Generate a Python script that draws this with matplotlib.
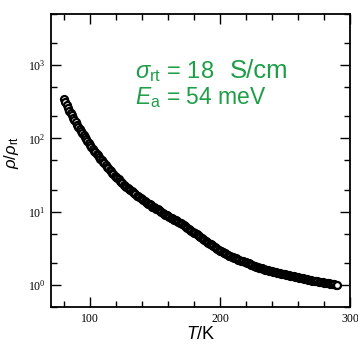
import numpy as np
import matplotlib
matplotlib.use('Agg')
import matplotlib.pyplot as plt
from matplotlib.ticker import LogLocator, FixedLocator, LogFormatterMathtext, NullFormatter

plt.rcParams['mathtext.fontset'] = 'custom'
plt.rcParams['mathtext.rm'] = 'Liberation Sans'
plt.rcParams['mathtext.it'] = 'Liberation Sans:italic'

# temperature (K) and log10 of rho/rho_rt (1 K steps)
temps = list(range(80, 291))
log_rho = [2.54, 2.50, 2.46, 2.42, 2.38, 2.35, 2.32, 2.285, 2.25, 2.22,
           2.19, 2.16, 2.13, 2.10, 2.07, 2.045, 2.02, 1.99, 1.96, 1.935,
           1.91, 1.885, 1.86, 1.835, 1.81, 1.79, 1.77, 1.745, 1.72, 1.70,
           1.68, 1.66, 1.64, 1.615, 1.59, 1.57, 1.55, 1.53, 1.51, 1.49,
           1.47, 1.455, 1.44, 1.425, 1.41, 1.39, 1.37, 1.355, 1.34, 1.325,
           1.31, 1.295, 1.28, 1.265, 1.25, 1.235, 1.22, 1.21, 1.20, 1.185,
           1.17, 1.16, 1.15, 1.135, 1.12, 1.11, 1.10, 1.085, 1.07, 1.06,
           1.05, 1.04, 1.03, 1.02, 1.01, 0.995, 0.98, 0.97, 0.96, 0.95,
           0.94, 0.93, 0.92, 0.91, 0.90, 0.89, 0.88, 0.87, 0.86, 0.85,
           0.84, 0.828, 0.815, 0.803, 0.79, 0.778, 0.765, 0.753, 0.74, 0.728,
           0.715, 0.703, 0.69, 0.678, 0.665, 0.653, 0.64, 0.628, 0.615, 0.603,
           0.59, 0.578, 0.565, 0.553, 0.54, 0.528, 0.515, 0.503, 0.49, 0.48,
           0.47, 0.46, 0.45, 0.44, 0.43, 0.42, 0.41, 0.401, 0.393, 0.385,
           0.377, 0.37, 0.362, 0.355, 0.347, 0.34, 0.333, 0.326, 0.32, 0.313,
           0.307, 0.3, 0.293, 0.286, 0.279, 0.272, 0.265, 0.258, 0.251, 0.244,
           0.238, 0.232, 0.226, 0.22, 0.214, 0.208, 0.203, 0.198, 0.193, 0.188,
           0.184, 0.18, 0.176, 0.172, 0.168, 0.164, 0.16, 0.156, 0.152, 0.148,
           0.144, 0.14, 0.136, 0.132, 0.128, 0.124, 0.12, 0.116, 0.112, 0.108,
           0.104, 0.10, 0.096, 0.092, 0.088, 0.084, 0.08, 0.076, 0.072, 0.068,
           0.064, 0.06, 0.056, 0.053, 0.05, 0.047, 0.044, 0.041, 0.038, 0.035,
           0.032, 0.029, 0.026, 0.023, 0.02, 0.017, 0.014, 0.011, 0.008, 0.004,
           0.0]
rho = 10 ** np.array(log_rho)

x_major = [100, 200, 300]
x_minor = [80, 120, 140, 160, 180, 220, 240, 260, 280]
green = '#1f9e48'

fig = plt.figure(figsize=(3.58, 3.44), dpi=100)
ax = fig.add_axes([0.1425, 0.1076, 0.835, 0.8517])

ax.plot(temps, rho, linestyle='none', marker='o', markersize=5,
        markerfacecolor='white', markeredgecolor='black', markeredgewidth=1.6)

ax.set_yscale('log')
ax.set_xlim(70, 300)
ax.set_ylim(0.5, 5000)

ax.xaxis.set_major_locator(FixedLocator(x_major))
ax.xaxis.set_minor_locator(FixedLocator(x_minor))
ax.yaxis.set_major_locator(LogLocator(base=10, numticks=10))
ax.yaxis.set_minor_locator(LogLocator(base=10, subs=(2, 5), numticks=10))
ax.yaxis.set_major_formatter(LogFormatterMathtext())
ax.yaxis.set_minor_formatter(NullFormatter())

ax.tick_params(which='both', direction='in', top=True, right=True, width=1.0, pad=4)
ax.tick_params(which='major', length=7)
ax.tick_params(which='minor', length=4)
for lab in ax.get_xticklabels() + ax.get_yticklabels():
    lab.set_fontfamily('Liberation Serif')
    lab.set_fontsize(8.5)
    lab.set_math_fontfamily('stix')
for s in ax.spines.values():
    s.set_linewidth(1.3)

ax.set_xlabel(r'$T$/K', fontsize=13, family='Liberation Sans')
ax.set_ylabel(r'$\rho/\rho_{\rm rt}$', fontsize=12, family='Liberation Sans')
ax.xaxis.set_label_coords(0.5, -0.065)
ax.yaxis.set_label_coords(-0.1, 0.526)

ax.text(0.281, 0.782, r'$\sigma_{\rm rt}$ = 18', transform=ax.transAxes, color=green,
        fontsize=17, family='Liberation Sans', va='baseline')
ax.text(0.599, 0.782, 'S/cm', transform=ax.transAxes, color=green,
        fontsize=18.5, family='Liberation Sans', va='baseline')
ax.text(0.281, 0.693, r'$E_{\rm a}$ = 54 meV', transform=ax.transAxes, color=green,
        fontsize=16.5, family='Liberation Sans', va='baseline')

fig.savefig('out.png', dpi=100)
